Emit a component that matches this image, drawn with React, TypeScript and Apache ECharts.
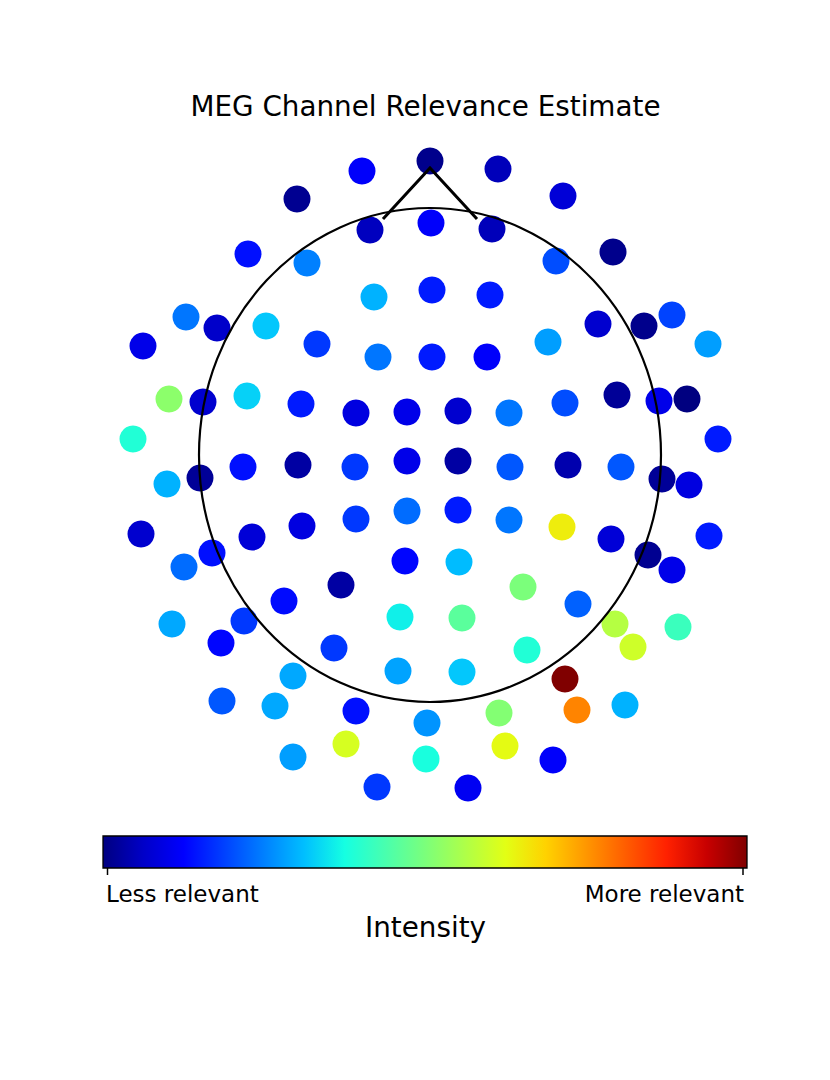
import React, { useEffect, useRef } from "react";
import * as echarts from "echarts";

// Sensor layout (head-centred units, +y towards the nose) and relevance values (0..1)
const sensorX = [
  0, -68, 68, -133, 133, 183, -182, -60, 1, 62,
  -123, 126, -56, 2, 60, -244, -213, -164, -287, -113,
  -52, 2, 57, 118, 168, 214, 242, 278, -261, -227,
  -183, -129, -74, -23, 28, 79, 135, 187, 229, 257,
  -297, 288, -263, -230, -187, -132, -75, -23, 28, 80,
  138, 191, 232, 259, -289, -218, -178, -128, -74, -23,
  28, 79, 132, 181, 218, 279, -246, -25, 29, 242,
  -89, -146, 93, 148, -258, -186, -209, -30, 32, 185,
  248, -96, 97, 203, -137, -32, 32, 135, -208, -155,
  -74, -3, 69, 147, 195, -84, -137, -4, 75, 123,
  -53, 38,
];
const sensorY = [
  294, 284, 286, 256, 259, 203, 201, 225, 232, 226,
  192, 194, 158, 165, 160, 138, 127, 129, 109, 111,
  98, 98, 98, 113, 131, 129, 140, 111, 56, 53,
  59, 51, 42, 43, 44, 42, 52, 60, 54, 56,
  16, 16, -29, -23, -12, -10, -12, -6, -6, -12,
  -10, -12, -24, -30, -79, -98, -82, -71, -64, -56,
  -55, -65, -72, -84, -100, -81, -112, -106, -107, -115,
  -130, -146, -132, -149, -169, -166, -188, -162, -163, -169,
  -172, -193, -195, -192, -221, -216, -217, -224, -246, -251,
  -256, -268, -258, -255, -250, -289, -302, -304, -291, -305,
  -332, -333,
];
const relevance = [
  0.01, 0.12, 0.05, 0.015, 0.08, 0.01, 0.14, 0.055, 0.12, 0.05,
  0.25, 0.2, 0.3, 0.15, 0.15, 0.24, 0.065, 0.32, 0.1, 0.18,
  0.24, 0.15, 0.12, 0.28, 0.07, 0.01, 0.19, 0.28, 0.52, 0.07,
  0.33, 0.15, 0.09, 0.1, 0.07, 0.24, 0.2, 0.02, 0.1, 0.0,
  0.39, 0.15, 0.3, 0.02, 0.14, 0.03, 0.18, 0.1, 0.03, 0.21,
  0.04, 0.21, 0.02, 0.09, 0.07, 0.14, 0.08, 0.09, 0.18, 0.23,
  0.15, 0.24, 0.65, 0.08, 0.015, 0.15, 0.23, 0.13, 0.31, 0.1,
  0.03, 0.135, 0.5, 0.22, 0.29, 0.18, 0.13, 0.36, 0.46, 0.57,
  0.42, 0.18, 0.39, 0.6, 0.29, 0.285, 0.32, 1.0, 0.21, 0.29,
  0.14, 0.27, 0.51, 0.77, 0.3, 0.61, 0.28, 0.38, 0.63, 0.12,
  0.18, 0.11,
];

// Head outline (radii) and nose polyline, same units
const headRadius = [231, 247];
const noseX = [-47, 0, 47];
const noseY = [236, 287, 236];

const titleText = "MEG Channel Relevance Estimate";
const colorbarTickLabels = ["Less relevant", "More relevant"];
const colorbarLabel = "Intensity";

// matplotlib "jet" sampled at 17 evenly spaced points
const jet = [
  "#000080", "#0000c8", "#0000ff", "#0040ff", "#0080ff", "#00bfff",
  "#15ffe2", "#48ffaf", "#7bff7b", "#afff48", "#e2ff15", "#ffd200",
  "#ff9700", "#ff5c00", "#ff2100", "#c80000", "#800000",
];

export default function App() {
  const ref = useRef<HTMLDivElement>(null);

  useEffect(() => {
    if (!ref.current) return;
    const chart = echarts.init(ref.current, undefined, { renderer: "svg" });
    const points = sensorX.map((x, i) => [x, sensorY[i], relevance[i]]);
    const font = "DejaVu Sans";
    const cbX = 103, cbY = 836, cbW = 644, cbH = 32;
    const stops = jet.map((c, i) => ({ offset: i / (jet.length - 1), color: c }));

    chart.setOption({
      animation: false,
      grid: { left: 0, right: 0, top: 0, bottom: 0, containLabel: false },
      xAxis: { type: "value", min: -430, max: 400, show: false },
      yAxis: { type: "value", min: -625, max: 455, show: false },
      visualMap: {
        type: "continuous",
        show: false,
        min: 0,
        max: 1,
        dimension: 2,
        seriesIndex: 0,
        inRange: { color: jet },
      },
      series: [
        {
          type: "scatter",
          data: points,
          symbolSize: 27,
          itemStyle: { opacity: 1 },
          z: 2,
        },
        {
          type: "custom",
          z: 5,
          silent: true,
          data: [[0, 0]],
          renderItem: (params: any, api: any) => {
            const c = api.coord([api.value(0), api.value(1)]);
            const s = api.size([headRadius[0], headRadius[1]]);
            const nose = noseX.map((x, i) => api.coord([x, noseY[i]]));
            return {
              type: "group",
              children: [
                {
                  type: "ellipse",
                  shape: { cx: c[0], cy: c[1], rx: s[0], ry: s[1] },
                  style: { fill: "none", stroke: "#000", lineWidth: 2.2 },
                },
                {
                  type: "polyline",
                  shape: { points: nose },
                  style: { fill: "none", stroke: "#000", lineWidth: 3 },
                },
              ],
            };
          },
        },
      ],
      graphic: [
        {
          type: "text",
          x: 425.5,
          y: 106.5,
          style: {
            text: titleText,
            fontSize: 27.8,
            fontFamily: font,
            fill: "#000",
            align: "center",
            verticalAlign: "middle",
          },
        },
        {
          type: "rect",
          shape: { x: cbX, y: cbY, width: cbW, height: cbH },
          style: {
            fill: new echarts.graphic.LinearGradient(0, 0, 1, 0, stops),
            stroke: "#000",
            lineWidth: 1.3,
          },
        },
        {
          type: "line",
          shape: { x1: cbX + 4.5, y1: cbY + cbH, x2: cbX + 4.5, y2: cbY + cbH + 7 },
          style: { stroke: "#000", lineWidth: 1.5 },
        },
        {
          type: "line",
          shape: { x1: cbX + cbW - 4, y1: cbY + cbH, x2: cbX + cbW - 4, y2: cbY + cbH + 7 },
          style: { stroke: "#000", lineWidth: 1.5 },
        },
        {
          type: "text",
          x: cbX + 3,
          y: 894,
          style: {
            text: colorbarTickLabels[0],
            fontSize: 23,
            fontFamily: font,
            fill: "#000",
            align: "left",
            verticalAlign: "middle",
          },
        },
        {
          type: "text",
          x: cbX + cbW - 3,
          y: 894,
          style: {
            text: colorbarTickLabels[1],
            fontSize: 23,
            fontFamily: font,
            fill: "#000",
            align: "right",
            verticalAlign: "middle",
          },
        },
        {
          type: "text",
          x: 425.5,
          y: 927,
          style: {
            text: colorbarLabel,
            fontSize: 27.8,
            fontFamily: font,
            fill: "#000",
            align: "center",
            verticalAlign: "middle",
          },
        },
      ],
    });

    return () => chart.dispose();
  }, []);

  return (
    <div
      ref={ref}
      style={{ position: "fixed", left: 0, top: 0, width: 830, height: 1080, background: "#fff" }}
    />
  );
}
